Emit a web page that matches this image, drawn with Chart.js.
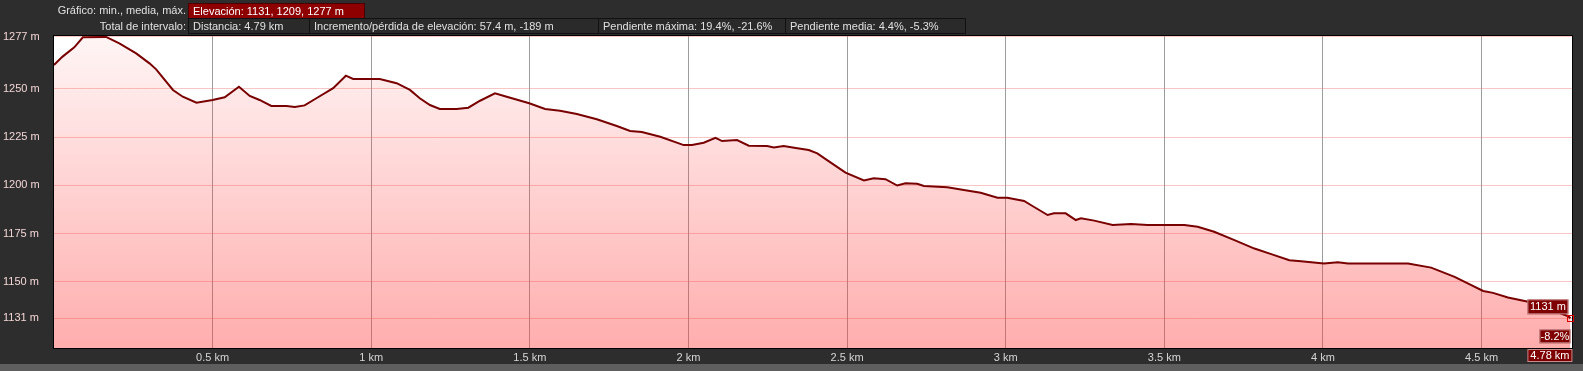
<!DOCTYPE html>
<html>
<head>
<meta charset="utf-8">
<script src="https://cdn.jsdelivr.net/npm/chart.js@4"></script>
<style>
body { margin: 0; background: #2d2d2d; overflow: hidden; font: 11px "Liberation Sans", Arial, sans-serif; color: #e0e0e0; }
#wrap { position: relative; width: 1583px; height: 371px; }
canvas { position: absolute; left: 0; top: 0; }
.lbl { position: absolute; left: 0; width: 186px; text-align: right; line-height: 15px; white-space: nowrap; }
.box { position: absolute; height: 16px; line-height: 14px; box-sizing: border-box; border: 1px solid #111; background: #2a2a2a; padding-left: 4px; white-space: nowrap; }
.box.red { background: #8e0000; border-color: #4a0000; color: #fff; }
#pie { position: absolute; left: 0; top: 364px; width: 1583px; height: 7px; background: #5e5e5e; }
</style>
</head>
<body>
<div id="wrap">
  <canvas id="perfil" width="1583" height="371"></canvas>
  <div class="lbl" style="top:3px">Gráfico: min., media, máx.</div>
  <div class="box red" style="top:3px;left:188px;width:177px">Elevación: 1131, 1209, 1277 m</div>
  <div class="lbl" style="top:19px">Total de intervalo:</div>
  <div class="box" style="top:18px;left:188px;width:122px">Distancia: 4.79 km</div>
  <div class="box" style="top:18px;left:309px;width:290px">Incremento/pérdida de elevación: 57.4 m, -189 m</div>
  <div class="box" style="top:18px;left:598px;width:188px">Pendiente máxima: 19.4%, -21.6%</div>
  <div class="box" style="top:18px;left:785px;width:181px">Pendiente media: 4.4%, -5.3%</div>
  <div id="pie"></div>
</div>
<script>
// distancia (km) y elevación (m) del perfil
const distKm = [0, 0.027, 0.064, 0.091, 0.164, 0.206, 0.259, 0.301, 0.322, 0.375, 0.406, 0.449, 0.5, 0.538,
  0.583, 0.617, 0.648, 0.685, 0.733, 0.759, 0.79, 0.827, 0.88, 0.92, 0.943, 1.027, 1.08, 1.122, 1.153, 1.185,
  1.216, 1.269, 1.306, 1.343, 1.39, 1.427, 1.498, 1.548, 1.595, 1.648, 1.711, 1.774, 1.816, 1.853, 1.911,
  1.985, 2.011, 2.048, 2.085, 2.106, 2.153, 2.19, 2.248, 2.269, 2.3, 2.343, 2.379, 2.406, 2.437, 2.495,
  2.553, 2.584, 2.621, 2.658, 2.684, 2.721, 2.742, 2.816, 2.868, 2.921, 2.974, 3.005, 3.058, 3.079, 3.132,
  3.152, 3.189, 3.221, 3.237, 3.279, 3.337, 3.395, 3.447, 3.563, 3.605, 3.657, 3.721, 3.784, 3.837, 3.894,
  3.931, 4.003, 4.047, 4.079, 4.268, 4.341, 4.415, 4.458, 4.505, 4.536, 4.583, 4.647, 4.668, 4.773, 4.78];
const elevM = [1262.5, 1266.8, 1271.6, 1276.8, 1277, 1273.7, 1268.5, 1263.3, 1260.2, 1249.5, 1246, 1242.9, 1244.3, 1245.7,
  1251.2, 1246.4, 1244.3, 1241.2, 1241.2, 1240.7, 1241.5, 1245.2, 1250.4, 1256.9, 1255.2, 1255.2, 1253, 1249.5, 1245.2, 1241.7,
  1239.6, 1239.6, 1240.3, 1243.9, 1247.8, 1246, 1242.6, 1239.6, 1238.7, 1237, 1234.3, 1230.8, 1228.2, 1227.7, 1225.2,
  1220.9, 1220.9, 1222.1, 1224.7, 1223, 1223.5, 1220.6, 1220.4, 1219.7, 1220.4, 1219.2, 1218.3, 1216.6, 1213.1, 1206.6,
  1202.5, 1203.7, 1203.2, 1199.9, 1201.1, 1200.8, 1199.7, 1199, 1197.6, 1196.2, 1193.6, 1193.6, 1191.9, 1189.8, 1184.6,
  1185.5, 1185.5, 1182, 1182.9, 1181.7, 1179.4, 1179.9, 1179.4, 1179.4, 1178.5, 1175.9, 1171.6, 1167.2, 1164.3, 1161.1,
  1160.6, 1159.4, 1160.1, 1159.4, 1159.4, 1157.3, 1152.5, 1149, 1145.2, 1144.2, 1141.8, 1139.6, 1138.7, 1132.1, 1131];

const yTicks = [1131, 1150, 1175, 1200, 1225, 1250, 1277];
const xTicks = [0.5, 1, 1.5, 2, 2.5, 3, 3.5, 4, 4.5];
const xMax = 4.785;

// lectura del cursor al final del perfil
const cursorKm = 4.78;
const cursorElev = 1131;
const cursorSlope = '-8.2%';

function etiqueta(ctx, text, x, y, w, h) {
    ctx.fillStyle = '#7e0000';
    ctx.fillRect(x, y, w, h);
    ctx.strokeStyle = 'rgba(230,200,200,0.7)';
    ctx.lineWidth = 1;
    ctx.strokeRect(x + 0.5, y + 0.5, w - 1, h - 1);
    ctx.fillStyle = '#fff';
    ctx.font = '11px "Liberation Sans", Arial, sans-serif';
    ctx.textAlign = 'center';
    ctx.textBaseline = 'middle';
    ctx.fillText(text, x + w / 2, y + h / 2 + 0.5);
}

const marco = {
    id: 'marco',
    beforeDraw(chart) {
        const {ctx, chartArea: a} = chart;
        ctx.save();
        ctx.fillStyle = '#fff';
        ctx.fillRect(a.left, a.top, a.width, a.height);
        ctx.restore();
    },
    afterDraw(chart) {
        const {ctx, chartArea: a} = chart;
        const sx = chart.scales.x, sy = chart.scales.y;
        ctx.save();
        ctx.strokeStyle = '#000';
        ctx.lineWidth = 1;
        ctx.strokeRect(a.left - 0.5, a.top - 0.5, a.width + 1, a.height + 1);

        const px = sx.getPixelForValue(cursorKm);
        const py = sy.getPixelForValue(cursorElev);
        ctx.strokeStyle = '#e00000';
        ctx.strokeRect(Math.round(px) - 2.5, Math.round(py) - 2.5, 6, 6);
        etiqueta(ctx, cursorElev + ' m', px - 43, py - 19, 41, 15);
        etiqueta(ctx, cursorSlope, px - 31, py + 11, 31, 14);
        etiqueta(ctx, cursorKm + ' km', px - 43, sx.top + 1, 45, 13);
        ctx.restore();
    }
};

const ctx = document.getElementById('perfil').getContext('2d');
new Chart(ctx, {
    type: 'line',
    data: {
        datasets: [{
            data: distKm.map((d, i) => ({x: d, y: elevM[i]})),
            borderColor: '#780000',
            borderWidth: 2,
            pointRadius: 0,
            tension: 0,
            fill: 'start',
            backgroundColor(c) {
                const a = c.chart.chartArea;
                if (!a) return 'rgba(255,60,60,0.2)';
                const g = c.chart.ctx.createLinearGradient(0, a.top, 0, a.bottom);
                g.addColorStop(0, 'rgba(255,60,60,0.05)');
                g.addColorStop(1, 'rgba(255,60,60,0.42)');
                return g;
            }
        }]
    },
    options: {
        responsive: false,
        animation: false,
        layout: {padding: {top: 36, right: 11, left: 3, bottom: 0}},
        plugins: {legend: {display: false}, tooltip: {enabled: false}},
        scales: {
            x: {
                type: 'linear',
                min: 0,
                max: xMax,
                afterBuildTicks(s) { s.ticks = xTicks.map(v => ({value: v})); },
                afterFit(s) { s.height = 23; },
                grid: {color: '#9c9c9c', drawTicks: false},
                border: {display: false},
                ticks: {
                    color: '#d6d6d6',
                    padding: 3,
                    maxRotation: 0,
                    font: {family: '"Liberation Sans", Arial, sans-serif', size: 11},
                    callback: v => v + ' km'
                }
            },
            y: {
                min: 1115.6,
                max: 1277.5,
                afterBuildTicks(s) { s.ticks = yTicks.map(v => ({value: v})); },
                afterFit(s) { s.width = 51; },
                grid: {color: 'rgba(240,120,120,0.42)', drawTicks: false},
                border: {display: false},
                ticks: {
                    color: '#f3d6d6',
                    crossAlign: 'far',
                    font: {family: '"Liberation Sans", Arial, sans-serif', size: 11},
                    callback: v => v + ' m'
                }
            }
        }
    },
    plugins: [marco]
});
</script>
</body>
</html>
